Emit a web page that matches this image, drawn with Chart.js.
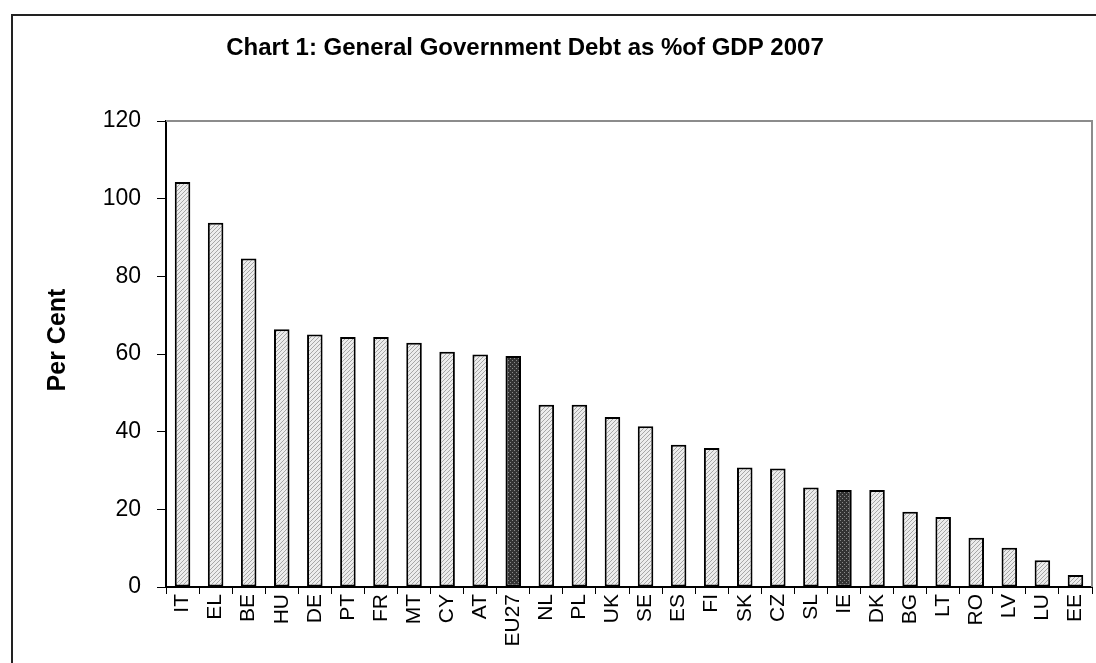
<!DOCTYPE html>
<html>
<head>
<meta charset="utf-8">
<script src="https://cdn.jsdelivr.net/npm/chart.js@4/dist/chart.umd.min.js"></script>
<style>
  html, body { margin: 0; padding: 0; background: #fff; overflow: hidden; }
  #wrap { position: relative; width: 1096px; height: 663px; }
  #frame { position: absolute; left: 11px; top: 14px; width: 1200px; height: 800px;
           border: 2px solid #222; box-sizing: border-box; }
  #chart { position: absolute; left: 0; top: 0; }
</style>
</head>
<body>
<div id="wrap">
  <div id="frame"></div>
  <canvas id="chart" width="1096" height="663"></canvas>
</div>
<script>
// General government debt, % of GDP, 2007
const countries = ['IT', 'EL', 'BE', 'HU', 'DE', 'PT', 'FR', 'MT', 'CY', 'AT', 'EU27', 'NL', 'PL', 'UK',
  'SE', 'ES', 'FI', 'SK', 'CZ', 'SL', 'IE', 'DK', 'BG', 'LT', 'RO', 'LV', 'LU', 'EE'];
const debt = [104.3, 93.8, 84.6, 66.4, 65.0, 64.4, 64.4, 62.9, 60.6, 59.9, 59.5, 46.9, 46.9, 43.8,
  41.4, 36.6, 35.8, 30.8, 30.5, 25.6, 25.0, 25.0, 19.4, 18.0, 12.7, 10.1, 6.9, 3.1];
const highlighted = ['EU27', 'IE'];
const yTicks = [0, 20, 40, 60, 80, 100, 120];

const chartTitle = 'Chart 1: General Government Debt as %of GDP 2007';
const yTitle = 'Per Cent';

// fill patterns: light hatch for countries, dark dots for highlighted bars
function hatchPattern(ctx) {
  const c = document.createElement('canvas');
  c.width = 4; c.height = 4;
  const g = c.getContext('2d');
  g.fillStyle = '#ececec';
  g.fillRect(0, 0, 4, 4);
  g.strokeStyle = '#a6a6a6';
  g.lineWidth = 1;
  g.beginPath();
  g.moveTo(0, 4); g.lineTo(4, 0);
  g.moveTo(-1, 1); g.lineTo(1, -1);
  g.moveTo(3, 5); g.lineTo(5, 3);
  g.stroke();
  return ctx.createPattern(c, 'repeat');
}

function dotPattern(ctx) {
  const c = document.createElement('canvas');
  c.width = 4; c.height = 4;
  const g = c.getContext('2d');
  g.fillStyle = '#333333';
  g.fillRect(0, 0, 4, 4);
  g.fillStyle = '#8a8a8a';
  g.fillRect(0, 0, 1, 1);
  g.fillRect(2, 2, 1, 1);
  return ctx.createPattern(c, 'repeat');
}

const canvas = document.getElementById('chart');
const ctx = canvas.getContext('2d');
const hatch = hatchPattern(ctx);
const dots = dotPattern(ctx);

const barFills = countries.map(c => highlighted.includes(c) ? dots : hatch);

const FONT = '"Liberation Sans", Arial, sans-serif';

const decorPlugin = {
  id: 'decor',
  beforeDatasetsDraw(chart) {
    const { ctx, chartArea } = chart;
    ctx.save();
    ctx.strokeStyle = '#8c8c8c';
    ctx.lineWidth = 2;
    ctx.beginPath();
    ctx.moveTo(chartArea.left, chartArea.top);
    ctx.lineTo(chartArea.right, chartArea.top);
    ctx.lineTo(chartArea.right, chartArea.bottom);
    ctx.stroke();
    ctx.restore();
  },
  afterDraw(chart) {
    const { ctx } = chart;
    ctx.save();
    ctx.fillStyle = '#000';
    ctx.textAlign = 'center';
    ctx.textBaseline = 'middle';
    ctx.font = 'bold 24px ' + FONT;
    ctx.fillText(chartTitle, 525, 48);

    ctx.translate(58, 340);
    ctx.rotate(-Math.PI / 2);
    ctx.font = 'bold 25px ' + FONT;
    ctx.fillText(yTitle, 0, 0);
    ctx.restore();
  }
};

new Chart(ctx, {
  type: 'bar',
  data: {
    labels: countries,
    datasets: [{
      label: 'Debt',
      data: debt,
      backgroundColor: barFills,
      borderColor: '#000',
      borderWidth: 2,
      borderSkipped: false,
      barPercentage: 0.47,
      categoryPercentage: 1
    }]
  },
  options: {
    responsive: false,
    animation: false,
    layout: { padding: { top: 121, right: 4, left: 0, bottom: 0 } },
    plugins: {
      legend: { display: false },
      title: { display: false },
      tooltip: { enabled: false }
    },
    scales: {
      x: {
        offset: true,
        grid: {
          offset: true,
          drawOnChartArea: false,
          drawTicks: true,
          tickLength: 7,
          color: '#000',
          lineWidth: 1
        },
        border: { display: true, color: '#000', width: 2 },
        ticks: {
          color: '#000',
          font: { family: FONT, size: 21 },
          minRotation: 90,
          maxRotation: 90,
          autoSkip: false,
          padding: 0
        },
        afterFit: scale => {
          scale.height = 76;
          scale.paddingLeft = 0;
          scale.paddingRight = 0;
        }
      },
      y: {
        min: 0,
        max: 120,
        afterBuildTicks: scale => { scale.ticks = yTicks.map(v => ({ value: v })); },
        grid: {
          drawOnChartArea: false,
          drawTicks: true,
          tickLength: 9,
          color: '#000',
          lineWidth: 1
        },
        border: { display: true, color: '#000', width: 2 },
        ticks: {
          color: '#000',
          font: { family: FONT, size: 23 },
          padding: 16
        },
        afterFit: scale => { scale.width = 166; }
      }
    }
  },
  plugins: [decorPlugin]
});
</script>
</body>
</html>
